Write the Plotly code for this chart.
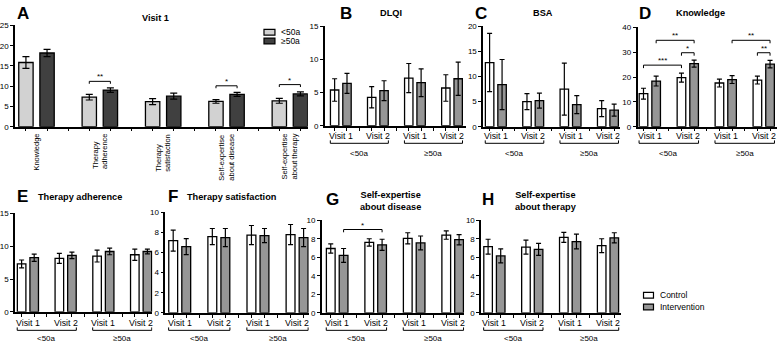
import plotly.graph_objects as go

W, H = 778, 348
FONT = "Arial, Liberation Sans, sans-serif"

# ---------------- data ----------------
A_categories = ["Knowledge", "Therapy<br>adherence", "Therapy<br>satisfaction",
                "Self-expertise<br>about disease", "Self-expertise<br>about therapy"]
A_under50 = [15.85, 7.3, 6.2, 6.25, 6.4]
A_under50_err = [1.45, 0.7, 0.75, 0.45, 0.6]
A_over50 = [18.2, 9.05, 7.55, 8.0, 8.1]
A_over50_err = [0.9, 0.55, 0.75, 0.5, 0.5]

visit_labels = ["Visit 1", "Visit 2", "Visit 1", "Visit 2"]
age_groups = ["<50a", "≥50a"]

B_ctrl = [5.4, 4.3, 7.2, 5.7];      B_ctrl_err = [1.7, 1.6, 2.2, 2.0]
B_int = [6.4, 5.3, 6.5, 7.1];       B_int_err = [1.5, 1.5, 2.1, 2.5]
C_ctrl = [12.8, 5.0, 7.5, 3.6];     C_ctrl_err = [5.8, 1.6, 5.2, 1.6]
C_int = [8.4, 5.2, 4.4, 3.3];       C_int_err = [5.0, 1.5, 1.8, 1.2]
D_ctrl = [13.3, 19.8, 17.6, 18.8];  D_ctrl_err = [2.2, 1.8, 1.6, 1.6]
D_int = [18.4, 25.4, 19.0, 25.2];   D_int_err = [2.0, 1.4, 1.6, 1.5]
E_ctrl = [7.3, 8.15, 8.5, 8.7];     E_ctrl_err = [0.6, 0.75, 0.9, 0.85]
E_int = [8.25, 8.6, 9.2, 9.2];      E_int_err = [0.55, 0.5, 0.5, 0.35]
F_ctrl = [7.2, 7.6, 7.75, 7.8];     F_ctrl_err = [1.05, 0.8, 0.95, 1.0]
F_int = [6.6, 7.5, 7.7, 7.5];       F_int_err = [0.8, 0.9, 0.7, 0.9]
G_ctrl = [6.95, 7.6, 8.05, 8.4];    G_ctrl_err = [0.5, 0.4, 0.6, 0.45]
G_int = [6.2, 7.35, 7.55, 7.9];     G_int_err = [0.75, 0.6, 0.75, 0.55]
H_ctrl = [7.15, 7.1, 8.15, 7.25];   H_ctrl_err = [0.8, 0.75, 0.55, 0.75]
H_int = [6.15, 6.85, 7.7, 8.1];     H_int_err = [0.75, 0.65, 0.8, 0.55]

panel_titles = {"A": "Visit 1", "B": "DLQI", "C": "BSA", "D": "Knowledge",
                "E": "Therapy adherence", "F": "Therapy satisfaction",
                "G": "Self-expertise<br>about disease", "H": "Self-expertise<br>about therapy"}

# ---------------- layout geometry (pixels) ----------------
panels = {
    "A": dict(i=1, x0=12, x1=306, yt=22, yb=126, ymax=25, dtick=5, xr=[-0.52, 13.35]),
    "B": dict(i=2, x0=323, x1=465, yt=23, yb=125, ymax=15, dtick=5, xr=[-0.8, 10.65]),
    "C": dict(i=3, x0=482, x1=619, yt=23, yb=126, ymax=20, dtick=5, xr=[-0.52, 10.44]),
    "D": dict(i=4, x0=637, x1=777, yt=24, yb=126, ymax=40, dtick=10, xr=[-0.47, 10.55]),
    "E": dict(i=5, x0=12, x1=150, yt=215, yb=316, ymax=15, dtick=5, xr=[-0.53, 10.4]),
    "F": dict(i=6, x0=163, x1=307, yt=214, yb=317, ymax=10, dtick=2, xr=[-0.6, 10.4]),
    "G": dict(i=7, x0=320, x1=463, yt=222, yb=317, ymax=10, dtick=2, xr=[-0.7, 10.4]),
    "H": dict(i=8, x0=480, x1=620, yt=222, yb=317, ymax=10, dtick=2, xr=[-0.55, 10.5]),
}
letter_pos = {"A": (12, 10), "B": (336, 10), "C": (472, 10), "D": (636, 10),
              "E": (12, 198), "F": (164, 198), "G": (322, 201), "H": (479, 201)}
title_pos = {"A": (153, 14), "B": (389, 9), "C": (542, 9), "D": (700, 9),
             "E": (77, 198), "F": (230, 198), "G": (389, 202), "H": (545, 202)}


def px(x):
    return x / W


def py(y):
    return 1 - y / H


fig = go.Figure()
layout = dict(width=W, height=H, margin=dict(l=0, r=0, t=0, b=0),
              paper_bgcolor="white", plot_bgcolor="white", showlegend=False,
              barmode="overlay", font=dict(family=FONT, color="black"))
annotations = []
shapes = []

BW = 0.68


def ax_names(i):
    s = "" if i == 1 else str(i)
    return "x" + s, "y" + s, "xaxis" + s, "yaxis" + s


def add_bars(i, xs, ys, errs, fill):
    xr_, yr_, _, _ = ax_names(i)
    fig.add_trace(go.Bar(
        x=xs, y=ys, width=BW, xaxis=xr_, yaxis=yr_,
        marker=dict(color=fill, line=dict(color="black", width=1.3)),
        error_y=dict(type="data", array=errs, visible=True, thickness=1.2,
                     width=3.5 if i == 1 else 2.5, color="black"),
        hoverinfo="skip"))


def sig(i, a, b, y, ylow, text):
    xr_, yr_, _, _ = ax_names(i)
    shapes.append(dict(type="path", xref=xr_, yref=yr_,
                       path=f"M {a},{ylow} L {a},{y} L {b},{y} L {b},{ylow}",
                       line=dict(color="black", width=1)))
    annotations.append(dict(x=(a + b) / 2, y=y, xref=xr_, yref=yr_, text=text,
                            showarrow=False, yanchor="bottom", yshift=-2,
                            font=dict(size=8, family=FONT)))


for name, p in panels.items():
    i = p["i"]
    xr_, yr_, xk, yk = ax_names(i)
    nslots = 14 if name == "A" else 11
    layout[xk] = dict(domain=[px(p["x0"]), px(p["x1"])], anchor=yr_, range=p["xr"],
                      showline=True, linecolor="black", linewidth=1.5,
                      ticks="outside", ticklen=3, tickwidth=1.2, tickcolor="black",
                      tickvals=list(range(nslots)), showticklabels=False,
                      showgrid=False, zeroline=False, fixedrange=True)
    layout[yk] = dict(domain=[py(p["yb"]), py(p["yt"])], anchor=xr_,
                      range=[0, p["ymax"]], dtick=p["dtick"], tick0=0,
                      showline=True, linecolor="black", linewidth=1.5,
                      ticks="outside", ticklen=3, tickwidth=1.2, tickcolor="black",
                      tickfont=dict(size=8, family=FONT), ticklabelstandoff=0,
                      showgrid=False, zeroline=False, fixedrange=True)
    lx, ly = letter_pos[name]
    annotations.append(dict(x=px(lx), y=py(ly), xref="paper", yref="paper", text=f"<b>{name}</b>",
                            showarrow=False, xanchor="left", yanchor="middle",
                            font=dict(size=17, family=FONT)))
    tx, ty = title_pos[name]
    annotations.append(dict(x=px(tx), y=py(ty), xref="paper", yref="paper",
                            text=f"<b>{panel_titles[name]}</b>", showarrow=False,
                            xanchor="center", yanchor="middle",
                            font=dict(size=9.2, family=FONT)))

# ---- panel A ----
A_light_x = [3 * k for k in range(len(A_categories))]
A_dark_x = [3 * k + 1 for k in range(len(A_categories))]
add_bars(1, A_light_x, A_under50, A_under50_err, "#d2d2d2")
add_bars(1, A_dark_x, A_over50, A_over50_err, "#404040")
for k, cat in enumerate(A_categories):
    annotations.append(dict(x=3 * k + 0.5, y=py(131), xref="x", yref="paper", text=cat,
                            textangle=-90, showarrow=False, xanchor="center", yanchor="top",
                            align="left", font=dict(size=7.5, family=FONT)))
sig(1, 3, 4, 11.2, 10.6, "**")
sig(1, 9, 10, 10.1, 9.5, "*")
sig(1, 12, 13, 10.4, 9.8, "*")
# panel A legend
for j, (lab, col) in enumerate(zip(["<50a", "≥50a"], ["#d2d2d2", "#404040"])):
    yc = 29 + 9 * j
    shapes.append(dict(type="rect", xref="paper", yref="paper", x0=px(262), x1=px(273),
                       y0=py(yc + 3), y1=py(yc - 3), fillcolor=col,
                       line=dict(color="black", width=1.2)))
    annotations.append(dict(x=px(277), y=py(yc), xref="paper", yref="paper", text=lab,
                            showarrow=False, xanchor="left", yanchor="middle",
                            font=dict(size=8.5, family=FONT)))

# ---- visit panels ----
ctrl_x = [0, 3, 6, 9]
int_x = [1, 4, 7, 10]
visit_data = {
    "B": (B_ctrl, B_ctrl_err, B_int, B_int_err),
    "C": (C_ctrl, C_ctrl_err, C_int, C_int_err),
    "D": (D_ctrl, D_ctrl_err, D_int, D_int_err),
    "E": (E_ctrl, E_ctrl_err, E_int, E_int_err),
    "F": (F_ctrl, F_ctrl_err, F_int, F_int_err),
    "G": (G_ctrl, G_ctrl_err, G_int, G_int_err),
    "H": (H_ctrl, H_ctrl_err, H_int, H_int_err),
}
for name, (c, ce, v, ve) in visit_data.items():
    p = panels[name]
    i = p["i"]
    xr_ = ax_names(i)[0]
    add_bars(i, ctrl_x, c, ce, "white")
    add_bars(i, int_x, v, ve, "#969696")
    top = name in "BCD"
    yl = 135 if top else 327
    yb = 143 if top else 335
    yg = 153 if top else 343
    for k, vl in enumerate(visit_labels):
        annotations.append(dict(x=ctrl_x[k] + 0.5, y=py(yl), xref=xr_, yref="paper", text=vl,
                                showarrow=False, xanchor="center", yanchor="middle",
                                font=dict(size=8.8, family=FONT)))
    for g, lab in enumerate(age_groups):
        a = ctrl_x[2 * g] - 0.35
        b = int_x[2 * g + 1] + 0.35
        shapes.append(dict(type="path", xref=xr_, yref="paper",
                           path=f"M {a},{py(yb - 3)} L {a},{py(yb)} L {b},{py(yb)} L {b},{py(yb - 3)}",
                           line=dict(color="black", width=1)))
        annotations.append(dict(x=(a + b) / 2, y=py(yg), xref=xr_, yref="paper", text=lab,
                                showarrow=False, xanchor="center", yanchor="middle",
                                font=dict(size=8, family=FONT)))

# significance in D and G
sig(4, 0, 3, 24.8, 23.6, "***")
sig(4, 1, 4, 34.8, 33.6, "**")
sig(4, 3, 4, 29.8, 28.6, "*")
sig(4, 7, 10, 34.8, 33.6, "**")
sig(4, 9, 10, 29.8, 28.6, "**")
sig(7, 1, 4, 9.0, 8.7, "*")

# bottom legend
for j, (lab, col) in enumerate(zip(["Control", "Intervention"], ["white", "#969696"])):
    yc = 299 + 12 * j
    shapes.append(dict(type="rect", xref="paper", yref="paper", x0=px(643), x1=px(653),
                       y0=py(yc + 3), y1=py(yc - 3), fillcolor=col,
                       line=dict(color="black", width=1.2)))
    annotations.append(dict(x=px(658), y=py(yc), xref="paper", yref="paper", text=lab,
                            showarrow=False, xanchor="left", yanchor="middle",
                            font=dict(size=8.5, family=FONT)))

layout["annotations"] = annotations
layout["shapes"] = shapes
fig.update_layout(**layout)
fig.write_html("out.html", config={"displayModeBar": False},
               post_script="document.body.style.margin='0';document.body.style.overflow='hidden';")
